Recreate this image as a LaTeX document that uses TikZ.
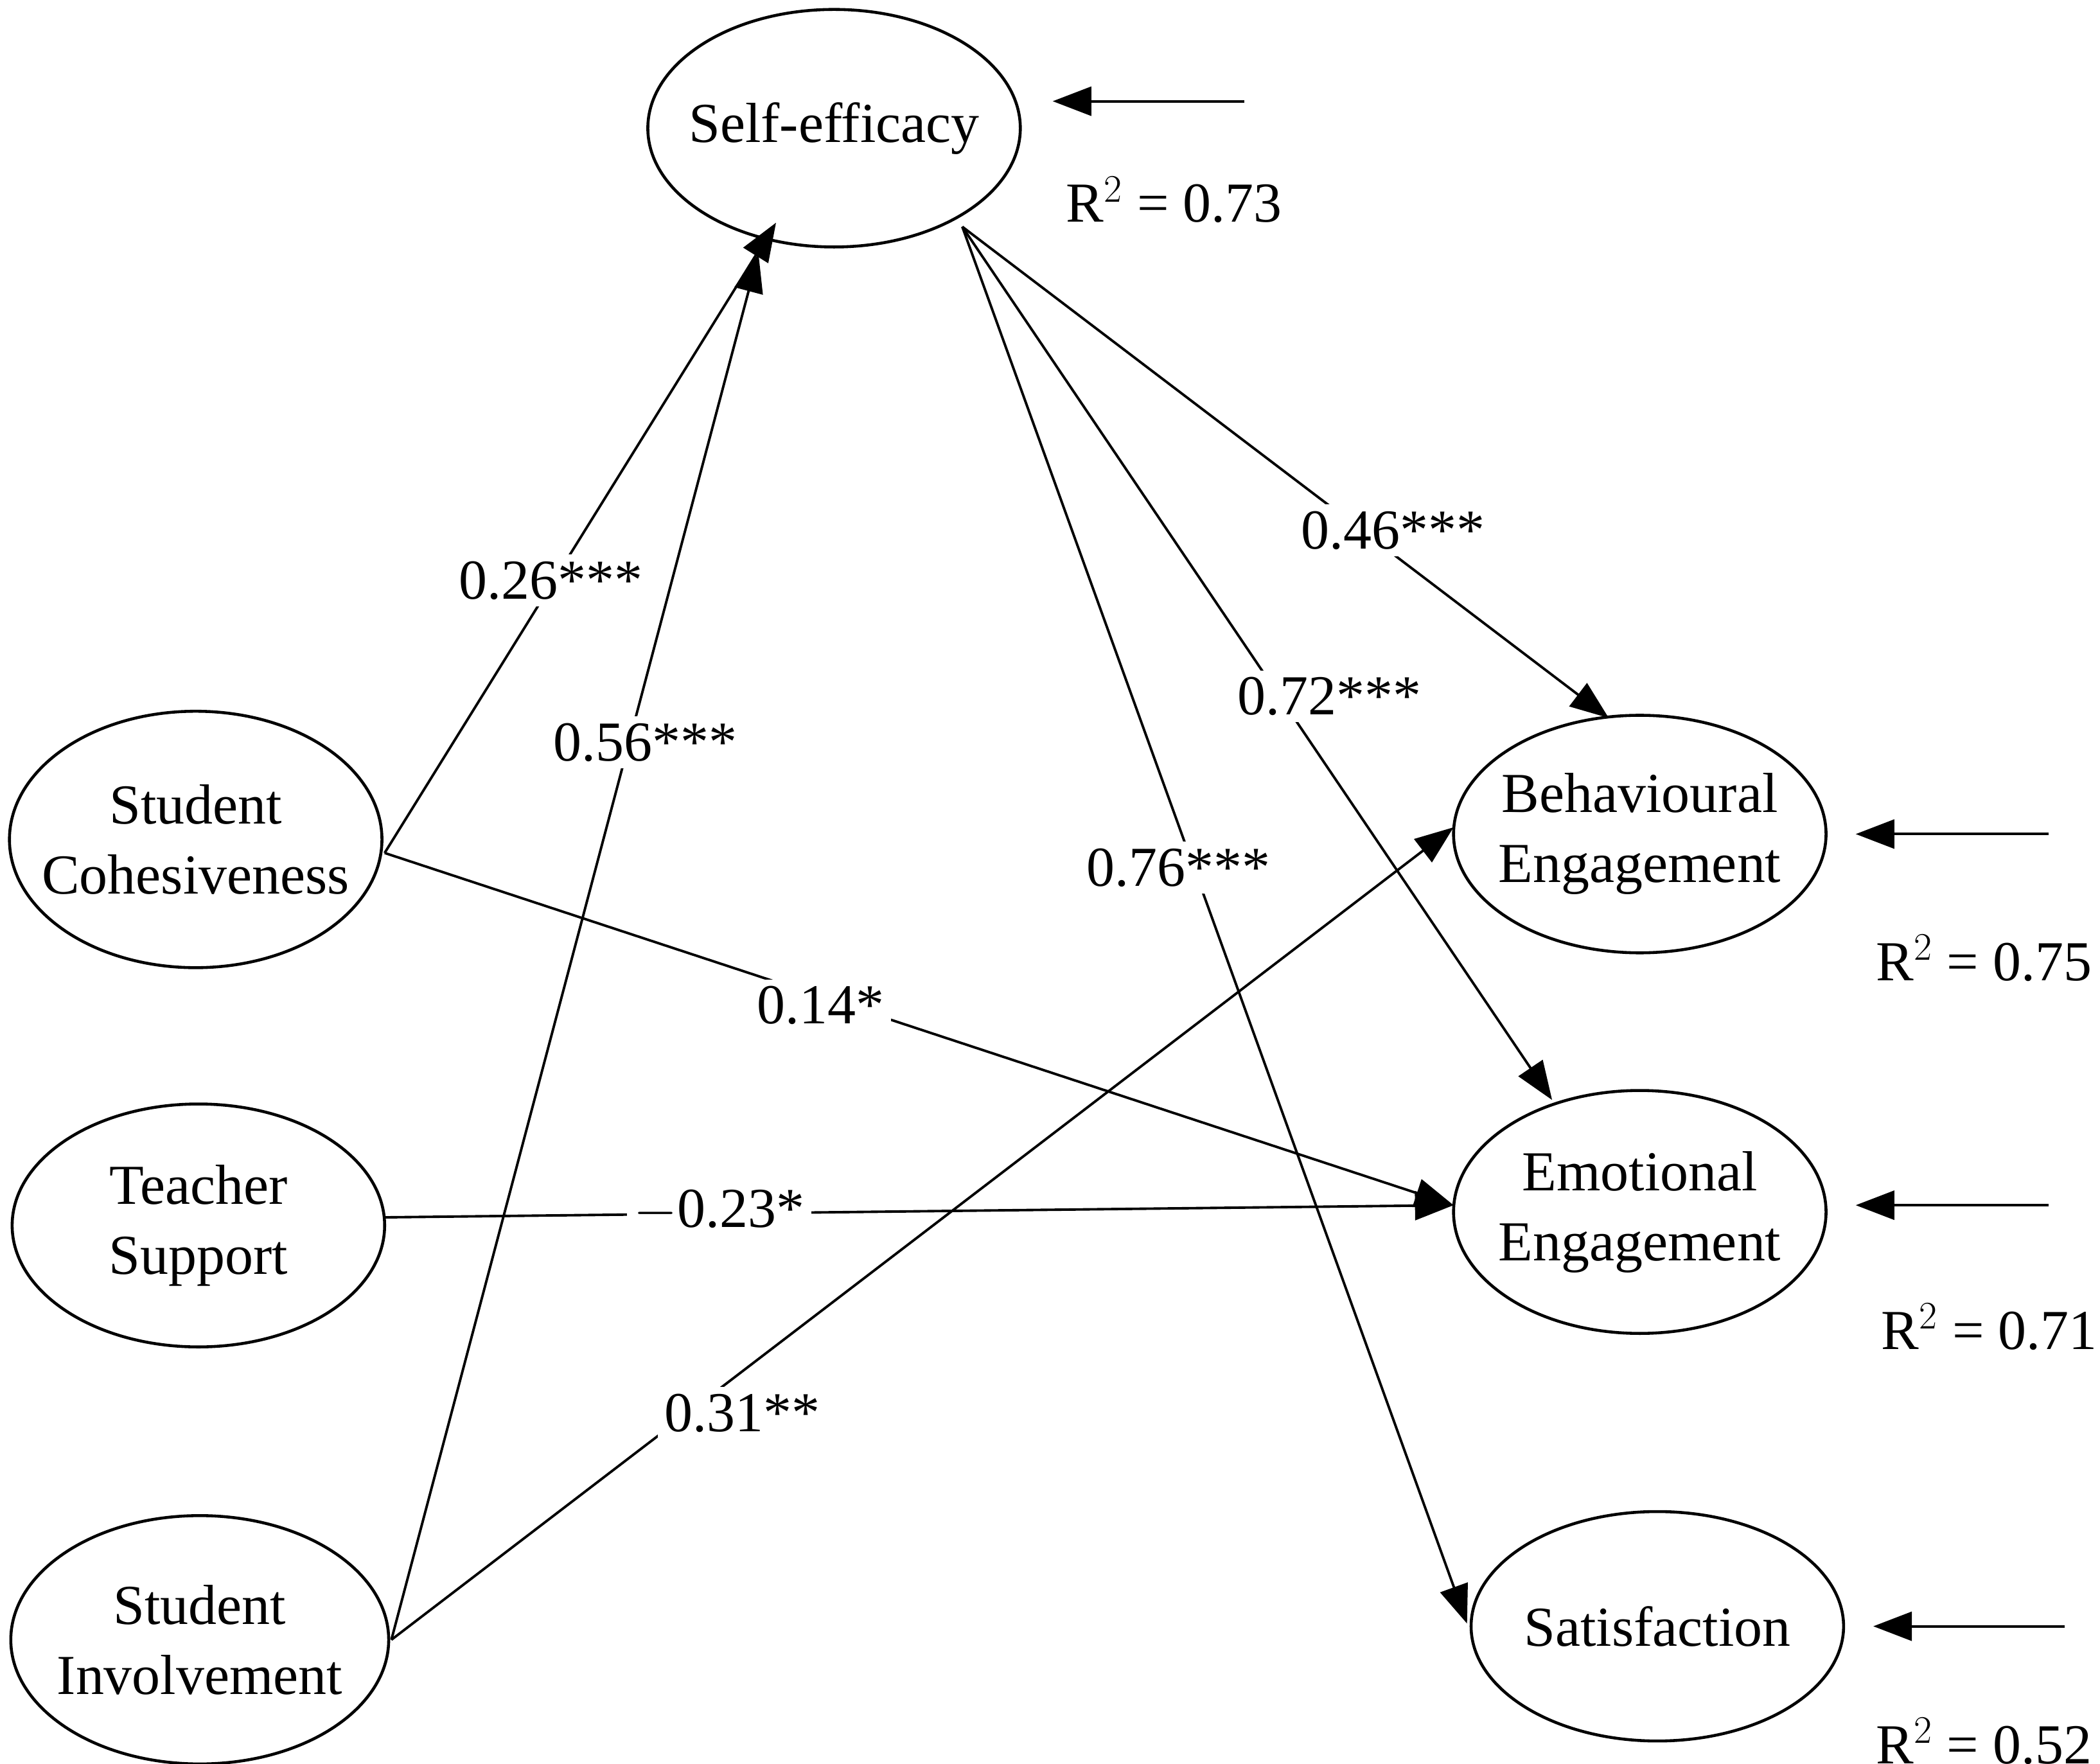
\documentclass[tikz,border=0pt]{standalone}
\usepackage{fontspec}
\setmainfont{Liberation Serif}
\usetikzlibrary{arrows.meta}
\begin{document}
\begin{tikzpicture}[x=0.021cm,y=-0.021cm,
 every node/.style={font=\fontsize{25}{31}\selectfont},
 el/.style={line width=1.3pt},
 tx/.style={align=center,inner sep=0pt},
 ln/.style={line width=1.1pt,-{Triangle[length=0.6cm,width=0.45cm]}},
 lab/.style={fill=white,inner sep=3pt}]
\useasboundingbox (0,0) rectangle (1556,1307);
\draw[el] (618,95) ellipse [x radius=138,y radius=88];
\node[tx] (se) at (618,95) {Self-efficacy};
\draw[el] (145,622) ellipse [x radius=138,y radius=95];
\node[tx] (sc) at (145,622) {Student\\Cohesiveness};
\draw[el] (147,908) ellipse [x radius=138,y radius=90];
\node[tx] (ts) at (147,908) {Teacher\\Support};
\draw[el] (148,1215) ellipse [x radius=140,y radius=92];
\node[tx] (si) at (148,1215) {Student\\Involvement};
\draw[el] (1215,618) ellipse [x radius=138,y radius=88];
\node[tx] (be) at (1215,618) {Behavioural\\Engagement};
\draw[el] (1215,898) ellipse [x radius=138,y radius=90];
\node[tx] (ee) at (1215,898) {Emotional\\Engagement};
\draw[el] (1228,1205) ellipse [x radius=138,y radius=85];
\node[tx] (sa) at (1228,1205) {Satisfaction};
\coordinate (scR) at (285,632); \coordinate (tsR) at (285,902); \coordinate (siR) at (290,1215);
\coordinate (seA) at (575,165); \coordinate (seB) at (562,188);
\coordinate (seC) at (713,168);
\coordinate (beL) at (1077,613); \coordinate (beT) at (1192,532);
\coordinate (eeT) at (1150,815); \coordinate (eeL) at (1077,893);
\coordinate (saT) at (1087,1203);
\draw[ln] (scR) -- (seA);
\draw[ln] (siR) -- (seB);
\draw[ln] (seC) -- (beT);
\draw[ln] (seC) -- (eeT);
\draw[ln] (seC) -- (saT);
\draw[ln] (scR) -- (eeL);
\draw[ln] (tsR) -- (eeL);
\draw[ln] (siR) -- (beL);
\node[lab] (l1) at (408,430) {0.26***};
\node[lab] (l2) at (478,550) {0.56***};
\node[lab] (l3) at (1032,393) {0.46***};
\node[lab] (l4) at (985,516) {0.72***};
\node[lab] (l5) at (873,643) {0.76***};
\node[lab] (l6) at (608,745) {0.14*};
\node[lab] (l7) at (533,897) {$-$0.23*};
\node[lab] (l8) at (550,1047) {0.31**};
\coordinate (e1) at (922,75); \coordinate (e1t) at (780,75);
\coordinate (e2) at (1518,618); \coordinate (e2t) at (1375,618);
\coordinate (e3) at (1518,893); \coordinate (e3t) at (1375,893);
\coordinate (e4) at (1530,1205); \coordinate (e4t) at (1388,1205);
\draw[ln] (e1) -- (e1t); \draw[ln] (e2) -- (e2t);
\draw[ln] (e3) -- (e3t); \draw[ln] (e4) -- (e4t);
\node (r1) at (870,148) {R$^2$ = 0.73};
\node (r2) at (1470,710) {R$^2$ = 0.75};
\node (r3) at (1474,983) {R$^2$ = 0.71};
\node (r4) at (1470,1290) {R$^2$ = 0.52};
\end{tikzpicture}
\end{document}
